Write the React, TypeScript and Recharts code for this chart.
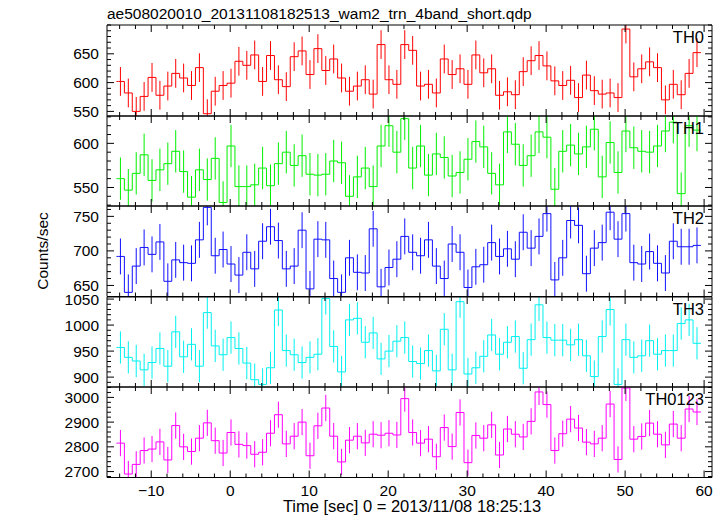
import React from 'react';
import { ComposedChart, Line, Scatter, ErrorBar, XAxis, YAxis } from 'recharts';

// bin centres [sec], 1 s bins
const TIME = [
  -13.9, -12.9, -11.9, -10.9, -9.9, -8.9, -7.9, -6.9, -5.9, -4.9, -3.9, -2.9, -1.9, -0.9,
  0.1, 1.1, 2.1, 3.1, 4.1, 5.1, 6.1, 7.1, 8.1, 9.1, 10.1, 11.1, 12.1, 13.1, 14.1, 15.1,
  16.1, 17.1, 18.1, 19.1, 20.1, 21.1, 22.1, 23.1, 24.1, 25.1, 26.1, 27.1, 28.1, 29.1,
  30.1, 31.1, 32.1, 33.1, 34.1, 35.1, 36.1, 37.1, 38.1, 39.1, 40.1, 41.1, 42.1, 43.1,
  44.1, 45.1, 46.1, 47.1, 48.1, 49.1, 50.1, 51.1, 52.1, 53.1, 54.1, 55.1, 56.1, 57.1,
  58.1, 59.1,
];

const TH0 = [
  602, 582, 550, 576, 609, 578, 594, 616, 608, 595, 626, 546, 585, 595, 599, 637, 630, 648,
  602, 647, 605, 593, 645, 655, 614, 659, 621, 641, 608, 585, 594, 605, 580, 666, 605, 597,
  666, 656, 594, 597, 582, 641, 614, 624, 597, 648, 617, 624, 578, 584, 579, 619, 638, 647,
  629, 603, 595, 604, 574, 613, 586, 580, 582, 574, 693, 610, 624, 636, 626, 570, 597, 579,
  616, 652,
];
const TH1 = [
  560, 547, 566, 587, 558, 570, 577, 591, 568, 539, 570, 559, 583, 533, 597, 551, 551, 553,
  572, 552, 577, 590, 575, 586, 565, 564, 565, 580, 578, 540, 562, 572, 551, 597, 620, 590,
  628, 572, 597, 564, 588, 584, 563, 567, 582, 602, 596, 566, 553, 613, 599, 575, 586, 613,
  607, 548, 591, 598, 588, 596, 616, 562, 601, 567, 614, 595, 591, 590, 597, 614, 624, 543,
  620, 615,
];
const TH2 = [
  692, 640, 678, 705, 695, 713, 656, 687, 683, 682, 716, 763, 693, 702, 681, 665, 698, 674,
  714, 735, 715, 674, 678, 730, 645, 717, 716, 660, 640, 690, 669, 668, 732, 648, 676, 688,
  721, 698, 693, 716, 678, 660, 710, 698, 647, 677, 680, 712, 692, 703, 688, 727, 704, 721,
  754, 658, 690, 744, 737, 667, 704, 712, 756, 717, 754, 683, 681, 699, 682, 668, 714, 706,
  706, 708,
];
const TH3 = [
  957, 938, 931, 914, 928, 955, 921, 987, 939, 963, 921, 1024, 960, 943, 976, 955, 927, 895,
  886, 918, 1029, 951, 943, 928, 938, 944, 1051, 959, 910, 1010, 1013, 967, 985, 935, 950, 969,
  976, 930, 926, 951, 912, 992, 914, 1045, 906, 918, 940, 981, 944, 967, 978, 917, 972, 1039,
  976, 971, 971, 962, 972, 941, 901, 978, 1030, 886, 972, 938, 941, 970, 944, 951, 951, 1003,
  1010, 965,
];
const TH0123 = [
  2815, 2690, 2729, 2785, 2791, 2820, 2747, 2886, 2800, 2781, 2835, 2897, 2825, 2775, 2858,
  2810, 2805, 2770, 2778, 2855, 2930, 2812, 2843, 2900, 2764, 2885, 2957, 2843, 2739, 2827,
  2843, 2816, 2851, 2847, 2855, 2848,
  2995, 2858, 2815, 2831, 2760, 2878, 2801, 2939, 2736, 2846, 2835, 2889, 2767, 2872, 2851,
  2840, 2903, 3022, 2971, 2785, 2853, 2912, 2876, 2819, 2812, 2835, 2973, 2749, 3038, 2831,
  2842, 2896, 2851, 2808, 2892, 2835, 2953, 2941,
];

// 1-sigma errors per band (counts/sec)
const ERR = { TH0: 25, TH1: 24, TH2: 26, TH3: 31, TH0123: 53 };

const X_DOMAIN = [-15.6, 61.0];

const FONT = '"Liberation Sans", Arial, Helvetica, sans-serif';
const FS = 15.5;

const range = (a: number, b: number, s: number) => {
  const out: number[] = [];
  for (let v = a; v <= b + 1e-9; v += s) out.push(Math.round(v * 1000) / 1000);
  return out;
};

const X_TICKS = range(-14, 60, 2);

const panels = [
  { name: 'TH0', values: TH0, err: ERR.TH0, color: '#ff0000', domain: [542, 700], major: [550, 600, 650], minor: 10 },
  { name: 'TH1', values: TH1, err: ERR.TH1, color: '#00f000', domain: [529, 631], major: [550, 600], minor: 10 },
  { name: 'TH2', values: TH2, err: ERR.TH2, color: '#1010ff', domain: [634, 765], major: [650, 700, 750], minor: 10 },
  { name: 'TH3', values: TH3, err: ERR.TH3, color: '#00f0f0', domain: [881, 1054], major: [900, 950, 1000, 1050], minor: 10 },
  { name: 'TH0123', values: TH0123, err: ERR.TH0123, color: '#ff00ff', domain: [2676, 3042], major: [2700, 2800, 2900, 3000], minor: 20 },
];

const EDGES = [25, 116, 206, 296.5, 386.5, 477];
const LEFT = 107;
const RIGHT = 712;
const W = 725;
const PAD = 12; // room for tick labels that sit on a panel edge

const fmtX = (v: number) => (v < 0 ? '\u2212' + Math.abs(v) : String(v));

const Panel = ({ p, top, height, last }: any) => {
  const [lo, hi] = p.domain;
  // error bars are cut at the panel frame, as in the plot
  const pts = TIME.map((t, i) => {
    const v = p.values[i];
    return { t, v, e: [Math.min(p.err, v - lo), Math.min(p.err, hi - v)] };
  });
  const n = TIME.length;
  const steps = [
    { t: TIME[0] - 0.5, v: p.values[0] },
    ...pts,
    { t: TIME[n - 1] + 0.5, v: p.values[n - 1] },
  ];
  const yTicks = range(Math.ceil(lo / p.minor) * p.minor, hi, p.minor);
  const isMajorY = (v: number) => p.major.includes(v);
  const bottomPad = last ? 40 : PAD;

  const xTick = (dir: number, label: boolean) => (props: any) => {
    const { x, y, payload } = props;
    const major = payload.value % 10 === 0;
    const len = major ? 7 : 4;
    return (
      <g>
        <line x1={x} x2={x} y1={y} y2={y + dir * len} stroke="#000" strokeWidth={1} />
        {label && major && (
          <text x={x} y={y + 18} textAnchor="middle" fontFamily={FONT} fontSize={FS} fill="#000">
            {fmtX(payload.value)}
          </text>
        )}
      </g>
    );
  };

  const yTick = (dir: number, label: boolean) => (props: any) => {
    const { x, y, payload } = props;
    const major = isMajorY(payload.value);
    const len = major ? 7 : 4;
    return (
      <g>
        <line x1={x} x2={x + dir * len} y1={y} y2={y} stroke="#000" strokeWidth={1} />
        {label && major && (
          <text x={x - 8} y={y} dy="0.36em" textAnchor="end" fontFamily={FONT} fontSize={FS} fill="#000">
            {payload.value}
          </text>
        )}
      </g>
    );
  };

  // axes need a non-zero size to be drawn: 1px each, compensated in margins
  return (
    <div style={{ position: 'absolute', left: 0, top: top - 1 - PAD }}>
      <ComposedChart
        width={W}
        height={height + 2 + PAD + bottomPad}
        margin={{ top: PAD, right: W - RIGHT - 1, bottom: bottomPad, left: LEFT - 1 }}
      >
        <XAxis
          xAxisId="b"
          dataKey="t"
          type="number"
          domain={X_DOMAIN}
          allowDataOverflow
          ticks={X_TICKS}
          interval={0}
          height={1}
          tickSize={0}
          tickMargin={0}
          tickLine={false}
          axisLine={{ stroke: '#000' }}
          tick={xTick(-1, last)}
        />
        <XAxis
          xAxisId="t"
          orientation="top"
          dataKey="t"
          type="number"
          domain={X_DOMAIN}
          allowDataOverflow
          ticks={X_TICKS}
          interval={0}
          height={1}
          tickSize={0}
          tickMargin={0}
          tickLine={false}
          axisLine={{ stroke: '#000' }}
          tick={xTick(1, false)}
        />
        <YAxis
          yAxisId="l"
          type="number"
          domain={p.domain}
          allowDataOverflow
          ticks={yTicks}
          interval={0}
          width={1}
          tickSize={0}
          tickMargin={0}
          tickLine={false}
          axisLine={{ stroke: '#000' }}
          tick={yTick(1, true)}
        />
        <YAxis
          yAxisId="r"
          orientation="right"
          type="number"
          domain={p.domain}
          allowDataOverflow
          ticks={yTicks}
          interval={0}
          width={1}
          tickSize={0}
          tickMargin={0}
          tickLine={false}
          axisLine={{ stroke: '#000' }}
          tick={yTick(-1, false)}
        />
        <Line
          xAxisId="b"
          yAxisId="l"
          data={steps}
          dataKey="v"
          type="step"
          stroke={p.color}
          strokeWidth={1}
          dot={false}
          isAnimationActive={false}
        />
        <Scatter
          xAxisId="b"
          yAxisId="l"
          data={pts}
          dataKey="v"
          shape={() => <g />}
          isAnimationActive={false}
        >
          <ErrorBar dataKey="e" direction="y" width={0} stroke={p.color} strokeWidth={1} isAnimationActive={false} />
        </Scatter>
      </ComposedChart>
    </div>
  );
};

export default function App() {
  return (
    <div style={{ position: 'absolute', left: 0, top: 0, width: W, height: 516, background: '#fff' }}>
      {panels.map((p, i) => (
        <Panel key={p.name} p={p} top={EDGES[i]} height={EDGES[i + 1] - EDGES[i]} last={i === panels.length - 1} />
      ))}
      <svg width={W} height={516} style={{ position: 'absolute', left: 0, top: 0, pointerEvents: 'none' }}>
        <text x={LEFT} y={19} fontFamily={FONT} fontSize={FS} fill="#000">
          ae508020010_20131108182513_wam2_trn_4band_short.qdp
        </text>
        {panels.map((p, i) => (
          <text key={p.name} x={704} y={EDGES[i] + 18} textAnchor="end" fontFamily={FONT} fontSize={FS + 1} fill="#000">
            {p.name}
          </text>
        ))}
        <text
          x={48}
          y={251}
          transform="rotate(-90 48 251)"
          textAnchor="middle"
          fontFamily={FONT}
          fontSize={FS}
          fill="#000"
        >
          Counts/sec
        </text>
        <text x={412} y={512} textAnchor="middle" fontFamily={FONT} fontSize={16.5} fill="#000">
          Time [sec] 0 = 2013/11/08 18:25:13
        </text>
      </svg>
    </div>
  );
}
